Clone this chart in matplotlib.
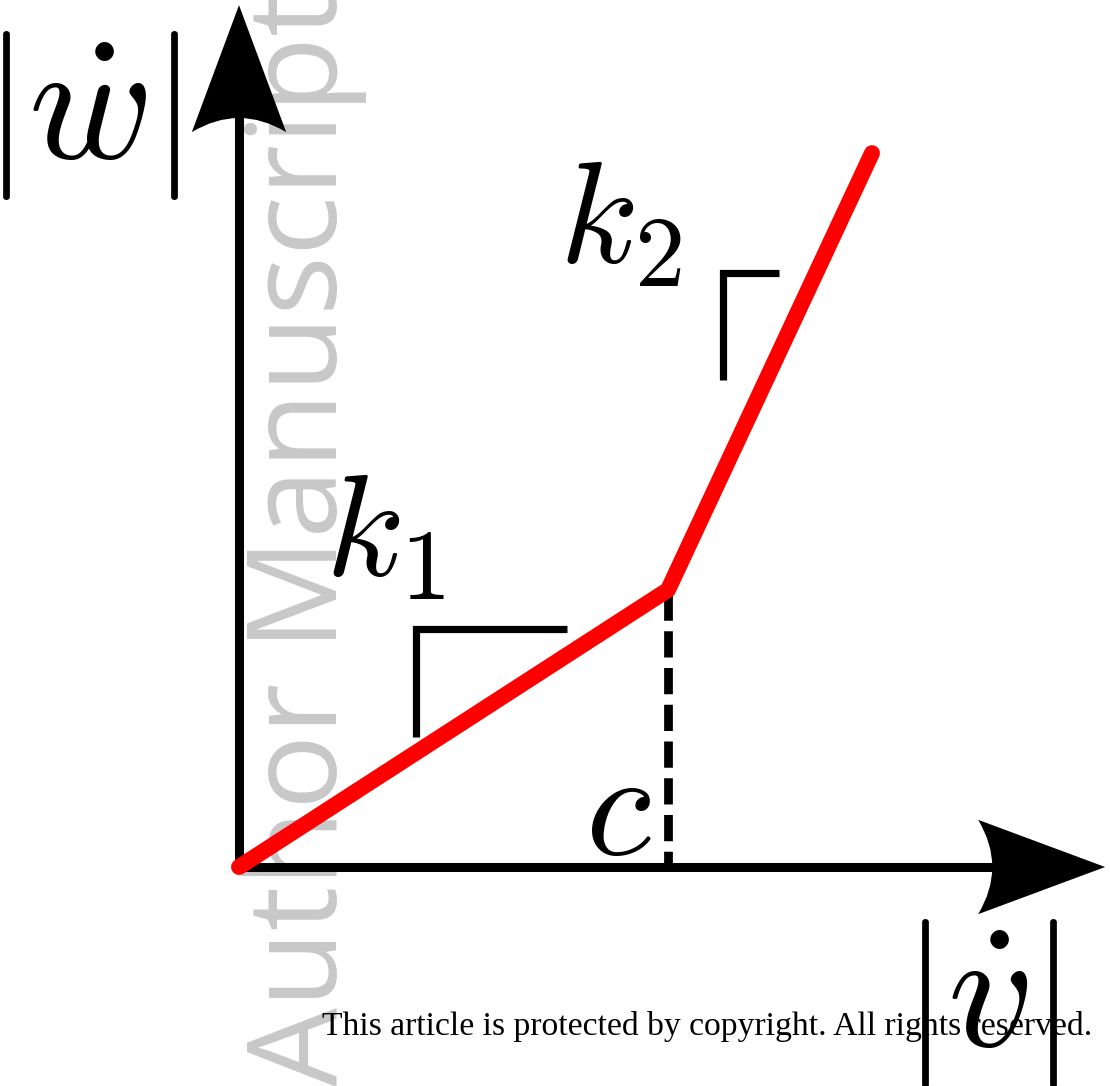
import matplotlib
matplotlib.use("Agg")
import matplotlib.pyplot as plt
from matplotlib.path import Path
from matplotlib.patches import PathPatch

plt.rcParams['mathtext.fontset'] = 'cm'

# Piecewise-linear relation |w'| vs |v'|: slope k1 up to c, slope k2 beyond
v_dot = [0.0, 1.0, 1.4755]      # |v'| at origin, break point c, end
w_dot = [0.0, 0.646, 1.664]     # |w'| at the same points
break_label = "$c$"
slope_labels = ["$k_1$", "$k_2$"]
x_label = r"$|\dot{v}|$"
y_label = r"$|\dot{w}|$"
watermark = "Author Manuscript"
notice = "This article is protected by copyright. All rights reserved."

W, H = 1110, 1086
fig = plt.figure(figsize=(W / 100, H / 100), dpi=100)
ax = fig.add_axes([0, 0, 1, 1])
ax.set_xlim(-0.5571, 2.0303)
ax.set_ylim(-0.5105, 2.0210)
ax.set_aspect('equal', adjustable='box')
ax.axis('off')

# Background watermark, rotated along the left side
ax.text(0.229, -0.510, watermark, rotation=90, rotation_mode='anchor',
        ha='left', va='baseline', fontsize=90, color='#c8c8c8',
        family='Open Sans', zorder=0)

axis_lw = 6.5
x_tip, y_tip = 2.019, 2.009
head_len, head_half, head_indent = 0.296, 0.11, 0.033


def arrow_head(tip, direction):
    """Filled arrow head with a concave back edge."""
    tx, ty = tip
    dx, dy = direction
    px, py = -dy, dx
    bx, by = tx - dx * head_len, ty - dy * head_len
    c1 = (bx + px * head_half, by + py * head_half)
    c2 = (bx - px * head_half, by - py * head_half)
    ctrl = (bx + dx * 2 * head_indent, by + dy * 2 * head_indent)
    verts = [tip, c1, ctrl, c2, tip]
    codes = [Path.MOVETO, Path.LINETO, Path.CURVE3, Path.CURVE3, Path.CLOSEPOLY]
    ax.add_patch(PathPatch(Path(verts, codes), facecolor='black',
                           edgecolor='none', zorder=2))


half = 0.0105
ax.plot([0, 0], [-half, y_tip - head_len + 0.04], color='black',
        lw=axis_lw, solid_capstyle='butt', zorder=2)
ax.plot([-half, x_tip - head_len + 0.04], [0, 0], color='black',
        lw=axis_lw, solid_capstyle='butt', zorder=2)
arrow_head((0, y_tip), (0, 1))
arrow_head((x_tip, 0), (1, 0))

# Dashed drop line from the break point to the |v'| axis
ax.plot([v_dot[1], v_dot[1]], [w_dot[1] - 0.01, 0.01], color='black', lw=6.3,
        dashes=(3.0, 1.2), dash_capstyle='butt', zorder=2)

# The red characteristic
ax.plot(v_dot, w_dot, color='#ff0000', lw=11.5, solid_capstyle='round',
        solid_joinstyle='round', zorder=3)

# Slope brackets
bracket_lw = 5.2
ax.plot([0.413, 0.413, 0.765], [0.303, 0.555, 0.555], color='black',
        lw=bracket_lw, solid_joinstyle='miter', solid_capstyle='butt', zorder=2)
ax.plot([1.128, 1.128, 1.259], [1.135, 1.385, 1.385], color='black',
        lw=bracket_lw, solid_joinstyle='miter', solid_capstyle='butt', zorder=2)

# Labels
ax.text(0.340, 0.774, slope_labels[0], fontsize=104, ha='center', va='center', zorder=4)
ax.text(0.888, 1.503, slope_labels[1], fontsize=104, ha='center', va='center', zorder=4)
ax.text(0.883, 0.128, break_label, fontsize=108, ha='center', va='center', zorder=4)
ax.text(-0.369, 1.752, y_label, fontsize=122, ha='center', va='center', zorder=4)
ax.text(1.728, -0.319, x_label, fontsize=122, ha='center', va='center', zorder=4)

# Copyright notice along the bottom
ax.text(0.193, -0.392, notice, fontsize=24.2, family='Liberation Serif',
        ha='left', va='baseline', color='black', zorder=5)

fig.savefig("out.png", dpi=100)
